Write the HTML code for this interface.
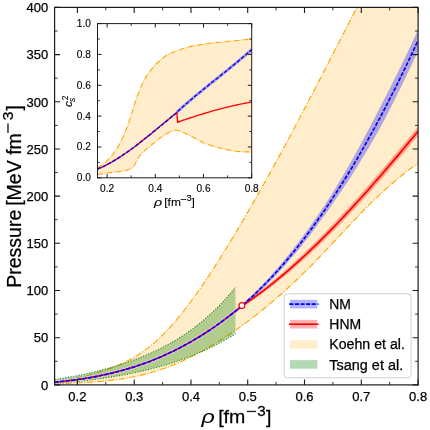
<!DOCTYPE html>
<html><head><meta charset="utf-8"><title>EoS</title>
<style>
html,body{margin:0;padding:0;background:#fff;}
svg{display:block;font-family:"Liberation Sans",sans-serif;fill:#1a1a1a;will-change:transform;}
svg text{fill:#000;stroke:#000;stroke-width:0.25px;}
svg g.ins text{stroke-width:0.12px;}
svg text.rho{stroke-width:0.05px;}
</style></head><body>
<svg width="430" height="430" viewBox="0 0 430 430">
<rect x="0" y="0" width="430" height="430" fill="#ffffff"/>
<defs><clipPath id="c"><rect x="54.6" y="7.4" width="363.5" height="377.5"/></clipPath>
<clipPath id="ci"><rect x="97.5" y="23.6" width="154.2" height="154.20000000000002"/></clipPath></defs>
<g clip-path="url(#c)">
<path d="M54.6,380.9 L57.3,380.6 L59.9,380.3 L62.6,380.0 L65.2,379.6 L67.9,379.2 L70.5,378.8 L73.2,378.4 L75.8,377.9 L78.5,377.4 L81.1,376.8 L83.8,376.3 L86.4,375.7 L89.1,375.0 L91.7,374.3 L94.4,373.6 L97.0,372.8 L99.7,372.0 L102.3,371.2 L105.0,370.3 L107.6,369.3 L110.3,368.4 L112.9,367.4 L115.6,366.3 L118.2,365.2 L120.9,364.0 L123.5,362.8 L126.2,361.5 L128.8,360.2 L131.5,358.7 L134.1,357.2 L136.8,355.7 L139.4,354.0 L142.1,352.2 L144.7,350.4 L147.4,348.4 L150.0,346.4 L152.7,344.2 L155.3,341.9 L158.0,339.5 L160.6,337.0 L163.3,334.3 L165.9,331.6 L168.6,328.8 L171.2,325.9 L173.9,322.9 L176.5,319.8 L179.2,316.6 L181.8,313.3 L184.5,310.0 L187.1,306.5 L189.8,303.0 L192.4,299.4 L195.1,295.8 L197.7,292.0 L200.4,288.2 L203.0,284.4 L205.7,280.5 L208.3,276.5 L211.0,272.5 L213.6,268.4 L216.3,264.2 L218.9,260.0 L221.6,255.8 L224.2,251.5 L226.9,247.2 L229.5,242.9 L232.2,238.5 L234.8,234.1 L237.5,229.6 L240.1,225.2 L242.8,220.7 L245.4,216.1 L248.1,211.6 L250.7,207.0 L253.4,202.4 L256.0,197.8 L258.7,193.1 L261.3,188.4 L264.0,183.7 L266.6,179.0 L269.3,174.2 L271.9,169.4 L274.6,164.6 L277.2,159.8 L279.9,154.9 L282.5,150.1 L285.2,145.2 L287.8,140.2 L290.5,135.3 L293.1,130.3 L295.8,125.3 L298.4,120.3 L301.1,115.3 L303.7,110.3 L306.4,105.2 L309.0,100.1 L311.7,95.0 L314.3,89.9 L317.0,84.8 L319.6,79.7 L322.3,74.6 L324.9,69.4 L327.6,64.3 L330.2,59.2 L332.9,54.0 L335.5,48.9 L338.2,43.7 L340.8,38.6 L343.5,33.5 L346.1,28.3 L348.8,23.2 L351.4,18.1 L354.1,13.0 L356.7,7.9 L359.4,2.8 L362.0,-2.2 L364.7,-7.3 L367.3,-12.3 L370.0,-17.3 L430.0,-17.0 L430.0,162.7 L418.2,163.2 L415.1,165.3 L412.1,167.5 L409.0,169.7 L406.0,172.1 L402.9,174.5 L399.9,176.9 L396.8,179.4 L393.8,182.0 L390.7,184.7 L387.6,187.4 L384.6,190.1 L381.5,192.9 L378.5,195.8 L375.4,198.7 L372.4,201.7 L369.3,204.7 L366.3,207.8 L363.2,210.9 L360.1,214.0 L357.1,217.2 L354.0,220.4 L351.0,223.6 L347.9,226.9 L344.9,230.1 L341.8,233.4 L338.8,236.7 L335.7,240.0 L332.6,243.2 L329.6,246.5 L326.5,249.7 L323.5,252.9 L320.4,256.1 L317.4,259.3 L314.3,262.5 L311.3,265.6 L308.2,268.6 L305.1,271.6 L302.1,274.6 L299.0,277.6 L296.0,280.5 L292.9,283.4 L289.9,286.2 L286.8,289.0 L283.8,291.8 L280.7,294.5 L277.6,297.2 L274.6,299.8 L271.5,302.4 L268.5,305.0 L265.4,307.5 L262.4,310.0 L259.3,312.5 L256.3,314.9 L253.2,317.3 L250.1,319.6 L247.1,321.9 L244.0,324.2 L241.0,326.4 L237.9,328.6 L234.9,330.7 L231.8,332.8 L228.8,334.9 L225.7,336.9 L222.7,338.9 L219.6,340.8 L216.5,342.7 L213.5,344.6 L210.4,346.4 L207.4,348.2 L204.3,349.9 L201.3,351.6 L198.2,353.2 L195.2,354.8 L192.1,356.3 L189.0,357.8 L186.0,359.3 L182.9,360.7 L179.9,362.1 L176.8,363.4 L173.8,364.7 L170.7,365.9 L167.7,367.0 L164.6,368.2 L161.5,369.2 L158.5,370.3 L155.4,371.2 L152.4,372.2 L149.3,373.0 L146.3,373.9 L143.2,374.6 L140.2,375.4 L137.1,376.1 L134.0,376.7 L131.0,377.3 L127.9,377.8 L124.9,378.4 L121.8,378.9 L118.8,379.3 L115.7,379.7 L112.7,380.1 L109.6,380.5 L106.5,380.8 L103.5,381.1 L100.4,381.4 L97.4,381.6 L94.3,381.9 L91.3,382.1 L88.2,382.3 L85.2,382.5 L82.1,382.7 L79.0,382.8 L76.0,383.0 L72.9,383.1 L69.9,383.3 L66.8,383.4 L63.8,383.6 L60.7,383.7 L57.7,383.8 L54.6,384.0Z" fill="#ffa500" fill-opacity="0.2"/>
<path d="M54.6,380.9 L57.3,380.6 L59.9,380.3 L62.6,380.0 L65.2,379.6 L67.9,379.2 L70.5,378.8 L73.2,378.4 L75.8,377.9 L78.5,377.4 L81.1,376.8 L83.8,376.3 L86.4,375.7 L89.1,375.0 L91.7,374.3 L94.4,373.6 L97.0,372.8 L99.7,372.0 L102.3,371.2 L105.0,370.3 L107.6,369.3 L110.3,368.4 L112.9,367.4 L115.6,366.3 L118.2,365.2 L120.9,364.0 L123.5,362.8 L126.2,361.5 L128.8,360.2 L131.5,358.7 L134.1,357.2 L136.8,355.7 L139.4,354.0 L142.1,352.2 L144.7,350.4 L147.4,348.4 L150.0,346.4 L152.7,344.2 L155.3,341.9 L158.0,339.5 L160.6,337.0 L163.3,334.3 L165.9,331.6 L168.6,328.8 L171.2,325.9 L173.9,322.9 L176.5,319.8 L179.2,316.6 L181.8,313.3 L184.5,310.0 L187.1,306.5 L189.8,303.0 L192.4,299.4 L195.1,295.8 L197.7,292.0 L200.4,288.2 L203.0,284.4 L205.7,280.5 L208.3,276.5 L211.0,272.5 L213.6,268.4 L216.3,264.2 L218.9,260.0 L221.6,255.8 L224.2,251.5 L226.9,247.2 L229.5,242.9 L232.2,238.5 L234.8,234.1 L237.5,229.6 L240.1,225.2 L242.8,220.7 L245.4,216.1 L248.1,211.6 L250.7,207.0 L253.4,202.4 L256.0,197.8 L258.7,193.1 L261.3,188.4 L264.0,183.7 L266.6,179.0 L269.3,174.2 L271.9,169.4 L274.6,164.6 L277.2,159.8 L279.9,154.9 L282.5,150.1 L285.2,145.2 L287.8,140.2 L290.5,135.3 L293.1,130.3 L295.8,125.3 L298.4,120.3 L301.1,115.3 L303.7,110.3 L306.4,105.2 L309.0,100.1 L311.7,95.0 L314.3,89.9 L317.0,84.8 L319.6,79.7 L322.3,74.6 L324.9,69.4 L327.6,64.3 L330.2,59.2 L332.9,54.0 L335.5,48.9 L338.2,43.7 L340.8,38.6 L343.5,33.5 L346.1,28.3 L348.8,23.2 L351.4,18.1 L354.1,13.0 L356.7,7.9 L359.4,2.8 L362.0,-2.2 L364.7,-7.3 L367.3,-12.3 L370.0,-17.3" fill="none" stroke="#ffa500" stroke-width="1.15" stroke-dasharray="6.4,1.6,1.1,1.6"/>
<path d="M54.6,384.0 L57.7,383.8 L60.7,383.7 L63.8,383.6 L66.8,383.4 L69.9,383.3 L72.9,383.1 L76.0,383.0 L79.0,382.8 L82.1,382.7 L85.2,382.5 L88.2,382.3 L91.3,382.1 L94.3,381.9 L97.4,381.6 L100.4,381.4 L103.5,381.1 L106.5,380.8 L109.6,380.5 L112.7,380.1 L115.7,379.7 L118.8,379.3 L121.8,378.9 L124.9,378.4 L127.9,377.8 L131.0,377.3 L134.0,376.7 L137.1,376.1 L140.2,375.4 L143.2,374.6 L146.3,373.9 L149.3,373.0 L152.4,372.2 L155.4,371.2 L158.5,370.3 L161.5,369.2 L164.6,368.2 L167.7,367.0 L170.7,365.9 L173.8,364.7 L176.8,363.4 L179.9,362.1 L182.9,360.7 L186.0,359.3 L189.0,357.8 L192.1,356.3 L195.2,354.8 L198.2,353.2 L201.3,351.6 L204.3,349.9 L207.4,348.2 L210.4,346.4 L213.5,344.6 L216.5,342.7 L219.6,340.8 L222.7,338.9 L225.7,336.9 L228.8,334.9 L231.8,332.8 L234.9,330.7 L237.9,328.6 L241.0,326.4 L244.0,324.2 L247.1,321.9 L250.1,319.6 L253.2,317.3 L256.3,314.9 L259.3,312.5 L262.4,310.0 L265.4,307.5 L268.5,305.0 L271.5,302.4 L274.6,299.8 L277.6,297.2 L280.7,294.5 L283.8,291.8 L286.8,289.0 L289.9,286.2 L292.9,283.4 L296.0,280.5 L299.0,277.6 L302.1,274.6 L305.1,271.6 L308.2,268.6 L311.3,265.6 L314.3,262.5 L317.4,259.3 L320.4,256.1 L323.5,252.9 L326.5,249.7 L329.6,246.5 L332.6,243.2 L335.7,240.0 L338.8,236.7 L341.8,233.4 L344.9,230.1 L347.9,226.9 L351.0,223.6 L354.0,220.4 L357.1,217.2 L360.1,214.0 L363.2,210.9 L366.3,207.8 L369.3,204.7 L372.4,201.7 L375.4,198.7 L378.5,195.8 L381.5,192.9 L384.6,190.1 L387.6,187.4 L390.7,184.7 L393.8,182.0 L396.8,179.4 L399.9,176.9 L402.9,174.5 L406.0,172.1 L409.0,169.7 L412.1,167.5 L415.1,165.3 L418.2,163.2" fill="none" stroke="#ffa500" stroke-width="1.15" stroke-dasharray="6.4,1.6,1.1,1.6"/>
<path d="M54.6,379.4 L57.7,379.0 L60.7,378.6 L63.8,378.1 L66.9,377.6 L69.9,377.0 L73.0,376.5 L76.1,375.9 L79.1,375.3 L82.2,374.7 L85.3,374.0 L88.3,373.3 L91.4,372.6 L94.5,371.9 L97.5,371.1 L100.6,370.3 L103.7,369.5 L106.7,368.7 L109.8,367.8 L112.9,366.9 L115.9,366.0 L119.0,365.0 L122.1,364.0 L125.1,363.0 L128.2,362.0 L131.3,360.9 L134.3,359.8 L137.4,358.6 L140.5,357.4 L143.5,356.2 L146.6,354.9 L149.6,353.6 L152.7,352.2 L155.8,350.8 L158.8,349.3 L161.9,347.7 L165.0,346.2 L168.0,344.5 L171.1,342.8 L174.2,341.0 L177.2,339.2 L180.3,337.3 L183.4,335.3 L186.4,333.3 L189.5,331.1 L192.6,328.9 L195.6,326.6 L198.7,324.2 L201.8,321.7 L204.8,319.2 L207.9,316.5 L211.0,313.7 L214.0,310.8 L217.1,307.8 L220.2,304.7 L223.2,301.5 L226.3,298.1 L229.4,294.6 L232.4,291.0 L235.5,287.3 L235.5,333.8 L232.4,335.7 L229.4,337.5 L226.3,339.3 L223.2,341.0 L220.2,342.7 L217.1,344.3 L214.0,345.9 L211.0,347.4 L207.9,348.8 L204.8,350.3 L201.8,351.6 L198.7,353.0 L195.6,354.2 L192.6,355.5 L189.5,356.7 L186.4,357.9 L183.4,359.0 L180.3,360.1 L177.2,361.2 L174.2,362.2 L171.1,363.2 L168.0,364.1 L165.0,365.1 L161.9,365.9 L158.8,366.8 L155.8,367.6 L152.7,368.5 L149.6,369.2 L146.6,370.0 L143.5,370.7 L140.5,371.4 L137.4,372.1 L134.3,372.8 L131.3,373.4 L128.2,374.0 L125.1,374.6 L122.1,375.2 L119.0,375.7 L115.9,376.2 L112.9,376.8 L109.8,377.2 L106.7,377.7 L103.7,378.2 L100.6,378.6 L97.5,379.0 L94.5,379.4 L91.4,379.8 L88.3,380.2 L85.3,380.6 L82.2,380.9 L79.1,381.3 L76.1,381.6 L73.0,381.9 L69.9,382.2 L66.9,382.5 L63.8,382.7 L60.7,383.0 L57.7,383.2 L54.6,383.5Z" fill="#008000" fill-opacity="0.3"/>
<path d="M54.6,379.4 L57.7,379.0 L60.7,378.6 L63.8,378.1 L66.9,377.6 L69.9,377.0 L73.0,376.5 L76.1,375.9 L79.1,375.3 L82.2,374.7 L85.3,374.0 L88.3,373.3 L91.4,372.6 L94.5,371.9 L97.5,371.1 L100.6,370.3 L103.7,369.5 L106.7,368.7 L109.8,367.8 L112.9,366.9 L115.9,366.0 L119.0,365.0 L122.1,364.0 L125.1,363.0 L128.2,362.0 L131.3,360.9 L134.3,359.8 L137.4,358.6 L140.5,357.4 L143.5,356.2 L146.6,354.9 L149.6,353.6 L152.7,352.2 L155.8,350.8 L158.8,349.3 L161.9,347.7 L165.0,346.2 L168.0,344.5 L171.1,342.8 L174.2,341.0 L177.2,339.2 L180.3,337.3 L183.4,335.3 L186.4,333.3 L189.5,331.1 L192.6,328.9 L195.6,326.6 L198.7,324.2 L201.8,321.7 L204.8,319.2 L207.9,316.5 L211.0,313.7 L214.0,310.8 L217.1,307.8 L220.2,304.7 L223.2,301.5 L226.3,298.1 L229.4,294.6 L232.4,291.0 L235.5,287.3" fill="none" stroke="#2a8a2a" stroke-width="1.2" stroke-dasharray="1.1,1.6"/>
<path d="M54.6,383.5 L57.7,383.2 L60.7,383.0 L63.8,382.7 L66.9,382.5 L69.9,382.2 L73.0,381.9 L76.1,381.6 L79.1,381.3 L82.2,380.9 L85.3,380.6 L88.3,380.2 L91.4,379.8 L94.5,379.4 L97.5,379.0 L100.6,378.6 L103.7,378.2 L106.7,377.7 L109.8,377.2 L112.9,376.8 L115.9,376.2 L119.0,375.7 L122.1,375.2 L125.1,374.6 L128.2,374.0 L131.3,373.4 L134.3,372.8 L137.4,372.1 L140.5,371.4 L143.5,370.7 L146.6,370.0 L149.6,369.2 L152.7,368.5 L155.8,367.6 L158.8,366.8 L161.9,365.9 L165.0,365.1 L168.0,364.1 L171.1,363.2 L174.2,362.2 L177.2,361.2 L180.3,360.1 L183.4,359.0 L186.4,357.9 L189.5,356.7 L192.6,355.5 L195.6,354.2 L198.7,353.0 L201.8,351.6 L204.8,350.3 L207.9,348.8 L211.0,347.4 L214.0,345.9 L217.1,344.3 L220.2,342.7 L223.2,341.0 L226.3,339.3 L229.4,337.5 L232.4,335.7 L235.5,333.8" fill="none" stroke="#2a8a2a" stroke-width="1.2" stroke-dasharray="1.1,1.6"/>
<path d="M54.6,382.2 L57.3,381.9 L60.0,381.7 L62.8,381.4 L65.5,381.1 L68.2,380.7 L70.9,380.4 L73.6,380.1 L76.3,379.7 L79.1,379.3 L81.8,378.9 L84.5,378.5 L87.2,378.0 L89.9,377.6 L92.6,377.1 L95.4,376.6 L98.1,376.1 L100.8,375.5 L103.5,374.9 L106.2,374.4 L108.9,373.7 L111.7,373.1 L114.4,372.4 L117.1,371.7 L119.8,371.0 L122.5,370.3 L125.3,369.5 L128.0,368.7 L130.7,367.9 L133.4,367.1 L136.1,366.2 L138.8,365.3 L141.6,364.3 L144.3,363.4 L147.0,362.4 L149.7,361.4 L152.4,360.3 L155.1,359.2 L157.9,358.1 L160.6,356.9 L163.3,355.7 L166.0,354.5 L168.7,353.3 L171.4,352.0 L174.2,350.7 L176.9,349.3 L179.6,347.9 L182.3,346.5 L185.0,345.0 L187.8,343.5 L190.5,342.0 L193.2,340.4 L195.9,338.8 L198.6,337.2 L201.3,335.5 L204.1,333.8 L206.8,332.0 L209.5,330.3 L212.2,328.4 L214.9,326.6 L217.6,324.6 L220.4,322.7 L223.1,320.7 L225.8,318.7 L228.5,316.6 L231.2,314.5 L233.9,312.4 L236.7,310.2 L239.4,308.0 L242.1,305.7" fill="none" stroke="#d2cfe6" stroke-opacity="0.9" stroke-width="3.7"/>
<path d="M242.1,304.2 L244.6,301.9 L247.2,299.6 L249.7,297.2 L252.3,294.7 L254.8,292.2 L257.4,289.7 L259.9,287.1 L262.5,284.5 L265.0,281.8 L267.6,279.1 L270.1,276.3 L272.7,273.5 L275.2,270.6 L277.8,267.7 L280.3,264.7 L282.9,261.7 L285.4,258.6 L288.0,255.5 L290.5,252.3 L293.1,249.1 L295.6,245.8 L298.2,242.5 L300.7,239.1 L303.2,235.7 L305.8,232.2 L308.3,228.7 L310.9,225.2 L313.4,221.6 L316.0,217.9 L318.5,214.3 L321.1,210.5 L323.6,206.7 L326.2,202.8 L328.7,198.9 L331.3,194.9 L333.8,190.8 L336.4,186.7 L338.9,182.5 L341.5,178.2 L344.0,173.8 L346.6,169.4 L349.1,164.9 L351.7,160.4 L354.2,155.9 L356.8,151.3 L359.3,146.7 L361.8,142.0 L364.4,137.3 L366.9,132.5 L369.5,127.7 L372.0,122.8 L374.6,117.9 L377.1,112.9 L379.7,108.0 L382.2,103.1 L384.8,98.1 L387.3,93.2 L389.9,88.2 L392.4,83.1 L395.0,78.1 L397.5,72.9 L400.1,67.7 L402.6,62.5 L405.2,57.2 L407.7,51.9 L410.3,46.5 L412.8,41.1 L415.4,35.6 L417.9,30.1 L417.9,51.3 L415.4,56.8 L412.8,62.3 L410.3,67.7 L407.7,73.1 L405.2,78.4 L402.6,83.7 L400.1,88.9 L397.5,94.0 L395.0,99.2 L392.4,104.2 L389.9,109.2 L387.3,114.2 L384.8,119.1 L382.2,123.9 L379.7,128.6 L377.1,133.2 L374.6,137.7 L372.0,142.1 L369.5,146.4 L366.9,150.7 L364.4,155.0 L361.8,159.2 L359.3,163.3 L356.8,167.5 L354.2,171.5 L351.7,175.5 L349.1,179.4 L346.6,183.3 L344.0,187.1 L341.5,190.9 L338.9,194.6 L336.4,198.3 L333.8,202.0 L331.3,205.7 L328.7,209.4 L326.2,213.0 L323.6,216.6 L321.1,220.1 L318.5,223.6 L316.0,227.1 L313.4,230.5 L310.9,233.9 L308.3,237.2 L305.8,240.5 L303.2,243.7 L300.7,246.9 L298.2,250.0 L295.6,253.1 L293.1,256.1 L290.5,259.1 L288.0,262.0 L285.4,264.9 L282.9,267.7 L280.3,270.5 L277.8,273.3 L275.2,276.0 L272.7,278.7 L270.1,281.3 L267.6,283.9 L265.0,286.4 L262.5,288.9 L259.9,291.3 L257.4,293.7 L254.8,296.1 L252.3,298.4 L249.7,300.7 L247.2,302.9 L244.6,305.1 L242.1,307.2Z" fill="#0000ff" fill-opacity="0.3"/>
<path d="M242.1,304.2 L244.7,302.4 L247.2,300.7 L249.8,298.8 L252.3,297.0 L254.9,295.1 L257.4,293.2 L260.0,291.3 L262.5,289.3 L265.1,287.3 L267.6,285.2 L270.2,283.2 L272.7,281.1 L275.3,279.0 L277.8,276.8 L280.4,274.6 L282.9,272.4 L285.5,270.2 L288.0,267.9 L290.6,265.6 L293.1,263.3 L295.7,260.9 L298.2,258.6 L300.8,256.2 L303.4,253.7 L305.9,251.3 L308.5,248.8 L311.0,246.4 L313.6,243.8 L316.1,241.3 L318.7,238.8 L321.2,236.2 L323.8,233.6 L326.3,231.0 L328.9,228.3 L331.4,225.7 L334.0,223.0 L336.5,220.3 L339.1,217.6 L341.6,214.9 L344.2,212.2 L346.7,209.4 L349.3,206.7 L351.8,203.9 L354.4,201.1 L356.9,198.2 L359.5,195.4 L362.1,192.5 L364.6,189.7 L367.2,186.8 L369.7,183.9 L372.3,181.0 L374.8,178.1 L377.4,175.1 L379.9,172.2 L382.5,169.2 L385.0,166.2 L387.6,163.2 L390.1,160.2 L392.7,157.2 L395.2,154.2 L397.8,151.2 L400.3,148.1 L402.9,145.1 L405.4,142.0 L408.0,138.9 L410.5,135.9 L413.1,132.8 L415.6,129.7 L418.2,126.6 L418.2,135.6 L415.6,138.7 L413.1,141.8 L410.5,144.8 L408.0,147.9 L405.4,151.0 L402.9,154.0 L400.3,157.0 L397.8,160.0 L395.2,163.1 L392.7,166.0 L390.1,169.0 L387.6,172.0 L385.0,174.9 L382.5,177.9 L379.9,180.8 L377.4,183.7 L374.8,186.6 L372.3,189.5 L369.7,192.4 L367.2,195.2 L364.6,198.0 L362.1,200.9 L359.5,203.6 L356.9,206.4 L354.4,209.2 L351.8,211.9 L349.3,214.7 L346.7,217.4 L344.2,220.1 L341.6,222.8 L339.1,225.4 L336.5,228.0 L334.0,230.6 L331.4,233.2 L328.9,235.8 L326.3,238.3 L323.8,240.8 L321.2,243.3 L318.7,245.8 L316.1,248.2 L313.6,250.6 L311.0,253.0 L308.5,255.4 L305.9,257.7 L303.4,260.0 L300.8,262.3 L298.2,264.6 L295.7,266.8 L293.1,269.0 L290.6,271.2 L288.0,273.3 L285.5,275.5 L282.9,277.6 L280.4,279.6 L277.8,281.7 L275.3,283.7 L272.7,285.7 L270.2,287.7 L267.6,289.6 L265.1,291.5 L262.5,293.4 L260.0,295.2 L257.4,297.0 L254.9,298.8 L252.3,300.5 L249.8,302.3 L247.2,303.9 L244.7,305.6 L242.1,307.2Z" fill="#ff0000" fill-opacity="0.3"/>
<path d="M54.6,382.2 L57.3,381.9 L60.0,381.7 L62.8,381.4 L65.5,381.1 L68.2,380.7 L70.9,380.4 L73.6,380.1 L76.3,379.7 L79.1,379.3 L81.8,378.9 L84.5,378.5 L87.2,378.0 L89.9,377.6 L92.6,377.1 L95.4,376.6 L98.1,376.1 L100.8,375.5 L103.5,374.9 L106.2,374.4 L108.9,373.7 L111.7,373.1 L114.4,372.4 L117.1,371.7 L119.8,371.0 L122.5,370.3 L125.3,369.5 L128.0,368.7 L130.7,367.9 L133.4,367.1 L136.1,366.2 L138.8,365.3 L141.6,364.3 L144.3,363.4 L147.0,362.4 L149.7,361.4 L152.4,360.3 L155.1,359.2 L157.9,358.1 L160.6,356.9 L163.3,355.7 L166.0,354.5 L168.7,353.3 L171.4,352.0 L174.2,350.7 L176.9,349.3 L179.6,347.9 L182.3,346.5 L185.0,345.0 L187.8,343.5 L190.5,342.0 L193.2,340.4 L195.9,338.8 L198.6,337.2 L201.3,335.5 L204.1,333.8 L206.8,332.0 L209.5,330.3 L212.2,328.4 L214.9,326.6 L217.6,324.6 L220.4,322.7 L223.1,320.7 L225.8,318.7 L228.5,316.6 L231.2,314.5 L233.9,312.4 L236.7,310.2 L239.4,308.0 L242.1,305.7 L244.7,304.0 L247.2,302.3 L249.8,300.6 L252.3,298.8 L254.9,297.0 L257.4,295.1 L260.0,293.2 L262.5,291.3 L265.1,289.4 L267.6,287.4 L270.2,285.4 L272.7,283.4 L275.3,281.3 L277.8,279.2 L280.4,277.1 L282.9,275.0 L285.5,272.8 L288.0,270.6 L290.6,268.4 L293.1,266.1 L295.7,263.9 L298.2,261.6 L300.8,259.2 L303.4,256.9 L305.9,254.5 L308.5,252.1 L311.0,249.7 L313.6,247.2 L316.1,244.8 L318.7,242.3 L321.2,239.7 L323.8,237.2 L326.3,234.6 L328.9,232.1 L331.4,229.4 L334.0,226.8 L336.5,224.2 L339.1,221.5 L341.6,218.8 L344.2,216.1 L346.7,213.4 L349.3,210.7 L351.8,207.9 L354.4,205.1 L356.9,202.3 L359.5,199.5 L362.1,196.7 L364.6,193.9 L367.2,191.0 L369.7,188.1 L372.3,185.2 L374.8,182.3 L377.4,179.4 L379.9,176.5 L382.5,173.5 L385.0,170.6 L387.6,167.6 L390.1,164.6 L392.7,161.6 L395.2,158.6 L397.8,155.6 L400.3,152.6 L402.9,149.5 L405.4,146.5 L408.0,143.4 L410.5,140.3 L413.1,137.3 L415.6,134.2 L418.2,131.1" fill="none" stroke="#ff0000" stroke-width="1.65"/>
<path d="M54.6,382.2 L57.3,381.9 L60.0,381.7 L62.8,381.4 L65.5,381.1 L68.2,380.7 L70.9,380.4 L73.6,380.1 L76.3,379.7 L79.1,379.3 L81.8,378.9 L84.5,378.5 L87.2,378.0 L89.9,377.6 L92.6,377.1 L95.4,376.6 L98.1,376.1 L100.8,375.5 L103.5,374.9 L106.2,374.4 L108.9,373.7 L111.7,373.1 L114.4,372.4 L117.1,371.7 L119.8,371.0 L122.5,370.3 L125.3,369.5 L128.0,368.7 L130.7,367.9 L133.4,367.1 L136.1,366.2 L138.8,365.3 L141.6,364.3 L144.3,363.4 L147.0,362.4 L149.7,361.4 L152.4,360.3 L155.1,359.2 L157.9,358.1 L160.6,356.9 L163.3,355.7 L166.0,354.5 L168.7,353.3 L171.4,352.0 L174.2,350.7 L176.9,349.3 L179.6,347.9 L182.3,346.5 L185.0,345.0 L187.8,343.5 L190.5,342.0 L193.2,340.4 L195.9,338.8 L198.6,337.2 L201.3,335.5 L204.1,333.8 L206.8,332.0 L209.5,330.3 L212.2,328.4 L214.9,326.6 L217.6,324.6 L220.4,322.7 L223.1,320.7 L225.8,318.7 L228.5,316.6 L231.2,314.5 L233.9,312.4 L236.7,310.2 L239.4,308.0 L242.1,305.7 L244.6,303.5 L247.2,301.2 L249.7,298.9 L252.3,296.6 L254.8,294.2 L257.4,291.7 L259.9,289.2 L262.5,286.7 L265.0,284.1 L267.6,281.5 L270.1,278.8 L272.7,276.1 L275.2,273.3 L277.8,270.5 L280.3,267.6 L282.9,264.7 L285.4,261.7 L288.0,258.7 L290.5,255.7 L293.1,252.6 L295.6,249.4 L298.2,246.2 L300.7,243.0 L303.2,239.7 L305.8,236.4 L308.3,233.0 L310.9,229.5 L313.4,226.1 L316.0,222.5 L318.5,218.9 L321.1,215.3 L323.6,211.6 L326.2,207.9 L328.7,204.1 L331.3,200.3 L333.8,196.4 L336.4,192.5 L338.9,188.5 L341.5,184.5 L344.0,180.5 L346.6,176.3 L349.1,172.2 L351.7,168.0 L354.2,163.7 L356.8,159.4 L359.3,155.0 L361.8,150.6 L364.4,146.1 L366.9,141.6 L369.5,137.0 L372.0,132.4 L374.6,127.8 L377.1,123.0 L379.7,118.3 L382.2,113.5 L384.8,108.6 L387.3,103.7 L389.9,98.7 L392.4,93.7 L395.0,88.6 L397.5,83.5 L400.1,78.3 L402.6,73.1 L405.2,67.8 L407.7,62.5 L410.3,57.1 L412.8,51.7 L415.4,46.2 L417.9,40.7" fill="none" stroke="#0000ff" stroke-width="1.65" stroke-dasharray="4.1,1.5"/>
<circle cx="241.9" cy="305.6" r="2.9" fill="#fff" stroke="#ff0000" stroke-width="1.2"/>
</g>
<path d="M77.4,384.9 v-5.5 M77.4,7.4 v5.5" stroke="#1c1c1c" stroke-width="1.1"/>
<path d="M105.8,384.9 v-3.0 M105.8,7.4 v3.0" stroke="#1c1c1c" stroke-width="0.9"/>
<path d="M134.2,384.9 v-5.5 M134.2,7.4 v5.5" stroke="#1c1c1c" stroke-width="1.1"/>
<path d="M162.6,384.9 v-3.0 M162.6,7.4 v3.0" stroke="#1c1c1c" stroke-width="0.9"/>
<path d="M191.0,384.9 v-5.5 M191.0,7.4 v5.5" stroke="#1c1c1c" stroke-width="1.1"/>
<path d="M219.3,384.9 v-3.0 M219.3,7.4 v3.0" stroke="#1c1c1c" stroke-width="0.9"/>
<path d="M247.7,384.9 v-5.5 M247.7,7.4 v5.5" stroke="#1c1c1c" stroke-width="1.1"/>
<path d="M276.1,384.9 v-3.0 M276.1,7.4 v3.0" stroke="#1c1c1c" stroke-width="0.9"/>
<path d="M304.5,384.9 v-5.5 M304.5,7.4 v5.5" stroke="#1c1c1c" stroke-width="1.1"/>
<path d="M332.9,384.9 v-3.0 M332.9,7.4 v3.0" stroke="#1c1c1c" stroke-width="0.9"/>
<path d="M361.3,384.9 v-5.5 M361.3,7.4 v5.5" stroke="#1c1c1c" stroke-width="1.1"/>
<path d="M389.7,384.9 v-3.0 M389.7,7.4 v3.0" stroke="#1c1c1c" stroke-width="0.9"/>
<path d="M418.1,384.9 v-5.5 M418.1,7.4 v5.5" stroke="#1c1c1c" stroke-width="1.1"/>
<path d="M54.6,384.9 h5.5 M418.1,384.9 h-5.5" stroke="#1c1c1c" stroke-width="1.1"/>
<path d="M54.6,361.3 h3.0 M418.1,361.3 h-3.0" stroke="#1c1c1c" stroke-width="0.9"/>
<path d="M54.6,337.7 h5.5 M418.1,337.7 h-5.5" stroke="#1c1c1c" stroke-width="1.1"/>
<path d="M54.6,314.1 h3.0 M418.1,314.1 h-3.0" stroke="#1c1c1c" stroke-width="0.9"/>
<path d="M54.6,290.5 h5.5 M418.1,290.5 h-5.5" stroke="#1c1c1c" stroke-width="1.1"/>
<path d="M54.6,266.9 h3.0 M418.1,266.9 h-3.0" stroke="#1c1c1c" stroke-width="0.9"/>
<path d="M54.6,243.3 h5.5 M418.1,243.3 h-5.5" stroke="#1c1c1c" stroke-width="1.1"/>
<path d="M54.6,219.7 h3.0 M418.1,219.7 h-3.0" stroke="#1c1c1c" stroke-width="0.9"/>
<path d="M54.6,196.1 h5.5 M418.1,196.1 h-5.5" stroke="#1c1c1c" stroke-width="1.1"/>
<path d="M54.6,172.6 h3.0 M418.1,172.6 h-3.0" stroke="#1c1c1c" stroke-width="0.9"/>
<path d="M54.6,149.0 h5.5 M418.1,149.0 h-5.5" stroke="#1c1c1c" stroke-width="1.1"/>
<path d="M54.6,125.4 h3.0 M418.1,125.4 h-3.0" stroke="#1c1c1c" stroke-width="0.9"/>
<path d="M54.6,101.8 h5.5 M418.1,101.8 h-5.5" stroke="#1c1c1c" stroke-width="1.1"/>
<path d="M54.6,78.2 h3.0 M418.1,78.2 h-3.0" stroke="#1c1c1c" stroke-width="0.9"/>
<path d="M54.6,54.6 h5.5 M418.1,54.6 h-5.5" stroke="#1c1c1c" stroke-width="1.1"/>
<path d="M54.6,31.0 h3.0 M418.1,31.0 h-3.0" stroke="#1c1c1c" stroke-width="0.9"/>
<path d="M54.6,7.4 h5.5 M418.1,7.4 h-5.5" stroke="#1c1c1c" stroke-width="1.1"/>
<rect x="54.6" y="7.4" width="363.5" height="377.5" fill="none" stroke="#1c1c1c" stroke-width="1.2"/>
<text x="77.4" y="401.2" text-anchor="middle" font-size="13">0.2</text>
<text x="134.2" y="401.2" text-anchor="middle" font-size="13">0.3</text>
<text x="191.0" y="401.2" text-anchor="middle" font-size="13">0.4</text>
<text x="247.7" y="401.2" text-anchor="middle" font-size="13">0.5</text>
<text x="304.5" y="401.2" text-anchor="middle" font-size="13">0.6</text>
<text x="361.3" y="401.2" text-anchor="middle" font-size="13">0.7</text>
<text x="418.1" y="401.2" text-anchor="middle" font-size="13">0.8</text>
<text x="48.3" y="389.6" text-anchor="end" font-size="13">0</text>
<text x="48.3" y="342.4" text-anchor="end" font-size="13">50</text>
<text x="48.3" y="295.2" text-anchor="end" font-size="13">100</text>
<text x="48.3" y="248.0" text-anchor="end" font-size="13">150</text>
<text x="48.3" y="200.8" text-anchor="end" font-size="13">200</text>
<text x="48.3" y="153.7" text-anchor="end" font-size="13">250</text>
<text x="48.3" y="106.5" text-anchor="end" font-size="13">300</text>
<text x="48.3" y="59.3" text-anchor="end" font-size="13">350</text>
<text x="48.3" y="12.1" text-anchor="end" font-size="13">400</text>
<text transform="translate(201.4,422.8) scale(1.25,1)" font-size="18.6" font-style="italic" class="rho">ρ</text>
<text transform="translate(218.2,422.8) scale(1.05,1)" font-size="18.6" >[fm</text>
<rect x="246.9" y="410.8" width="9.0" height="1.3" fill="#1a1a1a"/>
<text transform="translate(257.3,415.6) scale(1.08,1)" font-size="14" >3</text>
<text transform="translate(265.9,422.8) scale(1.05,1)" font-size="18.6" >]</text>
<g transform="translate(20.9,287.8) rotate(-90)"><text transform="translate(0,0) scale(1.0,1)" font-size="19.5" >Pressure</text><text transform="translate(82.0,0) scale(1.0,1)" font-size="19.5" >[MeV fm</text><rect x="154.9" y="-13.6" width="9.4" height="1.35" fill="#1a1a1a"/><text transform="translate(167.6,-7.5) scale(1.08,1)" font-size="14.5" >3</text><text transform="translate(177.4,0) scale(1.0,1)" font-size="19.5" >]</text></g>
<rect x="284.2" y="293.8" width="126.9" height="84.0" rx="3.2" fill="#fff" fill-opacity="0.8" stroke="#d0d0d0" stroke-width="1"/>
<rect x="290.0" y="299.8" width="27.30000000000001" height="8.6" fill="#0000ff" fill-opacity="0.3"/>
<path d="M289.3,304.1 H318.40000000000003" stroke="#0000ff" stroke-width="1.6" stroke-dasharray="4.1,1.5"/>
<rect x="290.0" y="319.9" width="27.30000000000001" height="8.6" fill="#ff0000" fill-opacity="0.3"/>
<path d="M289.0,324.2 H318.5" stroke="#ff0000" stroke-width="1.6"/>
<rect x="290.0" y="340.09999999999997" width="27.30000000000001" height="8.6" fill="#ffa500" fill-opacity="0.2"/>
<rect x="290.0" y="360.09999999999997" width="27.30000000000001" height="8.6" fill="#008000" fill-opacity="0.3"/>
<text x="329.3" y="309.1" font-size="14" textLength="21.6" lengthAdjust="spacingAndGlyphs">NM</text>
<text x="329.3" y="329.2" font-size="14" textLength="31.8" lengthAdjust="spacingAndGlyphs">HNM</text>
<text x="329.3" y="349.4" font-size="14" textLength="75.6" lengthAdjust="spacingAndGlyphs">Koehn et al.</text>
<text x="329.3" y="369.5" font-size="14" textLength="73.9" lengthAdjust="spacingAndGlyphs">Tsang et al.</text>
<g class="ins">
<rect x="97.5" y="23.6" width="154.2" height="154.20000000000002" fill="#fff"/>
<g clip-path="url(#ci)">
<path d="M97.5,167.8 L99.1,167.0 L100.6,166.0 L102.2,164.9 L103.7,163.7 L105.3,162.3 L106.8,160.9 L108.4,159.4 L110.0,157.7 L111.5,155.9 L113.1,153.9 L114.6,151.8 L116.2,149.5 L117.7,147.1 L119.3,144.5 L120.9,141.7 L122.4,138.4 L124.0,134.9 L125.5,131.2 L127.1,127.2 L128.7,122.8 L130.2,118.0 L131.8,113.3 L133.3,108.3 L134.9,103.4 L136.4,98.7 L138.0,94.5 L139.6,90.5 L141.1,86.7 L142.7,83.2 L144.2,80.1 L145.8,77.4 L147.3,74.9 L148.9,72.7 L150.5,70.6 L152.0,68.6 L153.6,66.8 L155.1,65.1 L156.7,63.5 L158.2,62.0 L159.8,60.6 L161.4,59.3 L162.9,58.0 L164.5,56.8 L166.0,55.7 L167.6,54.7 L169.1,53.9 L170.7,53.2 L172.3,52.5 L173.8,51.9 L175.4,51.4 L176.9,50.8 L178.5,50.2 L180.1,49.7 L181.6,49.1 L183.2,48.6 L184.7,48.1 L186.3,47.6 L187.8,47.2 L189.4,46.8 L191.0,46.4 L192.5,46.1 L194.1,45.8 L195.6,45.5 L197.2,45.2 L198.7,44.9 L200.3,44.7 L201.9,44.4 L203.4,44.2 L205.0,43.9 L206.5,43.7 L208.1,43.5 L209.6,43.3 L211.2,43.1 L212.8,42.9 L214.3,42.7 L215.9,42.6 L217.4,42.4 L219.0,42.3 L220.5,42.1 L222.1,42.0 L223.7,41.8 L225.2,41.7 L226.8,41.6 L228.3,41.4 L229.9,41.3 L231.5,41.1 L233.0,41.0 L234.6,40.8 L236.1,40.6 L237.7,40.5 L239.2,40.3 L240.8,40.1 L242.4,39.9 L243.9,39.8 L245.5,39.6 L247.0,39.4 L248.6,39.2 L250.1,39.0 L251.7,38.8 L251.7,152.0 L250.1,152.0 L248.6,152.0 L247.0,151.9 L245.5,151.9 L243.9,151.8 L242.4,151.7 L240.8,151.6 L239.2,151.6 L237.7,151.5 L236.1,151.3 L234.6,151.1 L233.0,150.8 L231.5,150.5 L229.9,150.2 L228.3,149.9 L226.8,149.6 L225.2,149.3 L223.7,148.9 L222.1,148.5 L220.5,148.1 L219.0,147.7 L217.4,147.3 L215.9,146.9 L214.3,146.5 L212.8,146.1 L211.2,145.6 L209.6,145.1 L208.1,144.6 L206.5,144.1 L205.0,143.4 L203.4,142.7 L201.9,141.9 L200.3,141.1 L198.7,140.2 L197.2,139.4 L195.6,138.6 L194.1,137.8 L192.5,136.9 L191.0,136.1 L189.4,135.3 L187.8,134.5 L186.3,133.8 L184.7,133.2 L183.2,132.5 L181.6,131.8 L180.1,131.2 L178.5,130.6 L176.9,130.3 L175.4,130.2 L173.8,130.4 L172.3,130.9 L170.7,131.5 L169.1,132.4 L167.6,133.3 L166.0,134.2 L164.5,135.1 L162.9,136.0 L161.4,137.1 L159.8,138.2 L158.2,139.4 L156.7,140.7 L155.1,142.0 L153.6,143.3 L152.0,144.6 L150.5,145.9 L148.9,147.2 L147.3,148.4 L145.8,149.7 L144.2,151.1 L142.7,152.6 L141.1,154.2 L139.6,156.0 L138.0,158.5 L136.4,161.5 L134.9,164.6 L133.3,167.0 L131.8,168.2 L130.2,169.0 L128.7,169.6 L127.1,170.1 L125.5,170.5 L124.0,170.8 L122.4,171.1 L120.9,171.4 L119.3,171.6 L117.7,171.8 L116.2,172.0 L114.6,172.1 L113.1,172.3 L111.5,172.5 L110.0,172.6 L108.4,172.8 L106.8,173.0 L105.3,173.3 L103.7,173.5 L102.2,173.7 L100.6,173.9 L99.1,174.2 L97.5,174.4Z" fill="#ffa500" fill-opacity="0.2"/>
<path d="M97.5,167.8 L99.1,167.0 L100.6,166.0 L102.2,164.9 L103.7,163.7 L105.3,162.3 L106.8,160.9 L108.4,159.4 L110.0,157.7 L111.5,155.9 L113.1,153.9 L114.6,151.8 L116.2,149.5 L117.7,147.1 L119.3,144.5 L120.9,141.7 L122.4,138.4 L124.0,134.9 L125.5,131.2 L127.1,127.2 L128.7,122.8 L130.2,118.0 L131.8,113.3 L133.3,108.3 L134.9,103.4 L136.4,98.7 L138.0,94.5 L139.6,90.5 L141.1,86.7 L142.7,83.2 L144.2,80.1 L145.8,77.4 L147.3,74.9 L148.9,72.7 L150.5,70.6 L152.0,68.6 L153.6,66.8 L155.1,65.1 L156.7,63.5 L158.2,62.0 L159.8,60.6 L161.4,59.3 L162.9,58.0 L164.5,56.8 L166.0,55.7 L167.6,54.7 L169.1,53.9 L170.7,53.2 L172.3,52.5 L173.8,51.9 L175.4,51.4 L176.9,50.8 L178.5,50.2 L180.1,49.7 L181.6,49.1 L183.2,48.6 L184.7,48.1 L186.3,47.6 L187.8,47.2 L189.4,46.8 L191.0,46.4 L192.5,46.1 L194.1,45.8 L195.6,45.5 L197.2,45.2 L198.7,44.9 L200.3,44.7 L201.9,44.4 L203.4,44.2 L205.0,43.9 L206.5,43.7 L208.1,43.5 L209.6,43.3 L211.2,43.1 L212.8,42.9 L214.3,42.7 L215.9,42.6 L217.4,42.4 L219.0,42.3 L220.5,42.1 L222.1,42.0 L223.7,41.8 L225.2,41.7 L226.8,41.6 L228.3,41.4 L229.9,41.3 L231.5,41.1 L233.0,41.0 L234.6,40.8 L236.1,40.6 L237.7,40.5 L239.2,40.3 L240.8,40.1 L242.4,39.9 L243.9,39.8 L245.5,39.6 L247.0,39.4 L248.6,39.2 L250.1,39.0 L251.7,38.8" fill="none" stroke="#ffa500" stroke-width="1.1" stroke-dasharray="5.5,1.4,1.0,1.4"/>
<path d="M97.5,174.4 L99.1,174.2 L100.6,173.9 L102.2,173.7 L103.7,173.5 L105.3,173.3 L106.8,173.0 L108.4,172.8 L110.0,172.6 L111.5,172.5 L113.1,172.3 L114.6,172.1 L116.2,172.0 L117.7,171.8 L119.3,171.6 L120.9,171.4 L122.4,171.1 L124.0,170.8 L125.5,170.5 L127.1,170.1 L128.7,169.6 L130.2,169.0 L131.8,168.2 L133.3,167.0 L134.9,164.6 L136.4,161.5 L138.0,158.5 L139.6,156.0 L141.1,154.2 L142.7,152.6 L144.2,151.1 L145.8,149.7 L147.3,148.4 L148.9,147.2 L150.5,145.9 L152.0,144.6 L153.6,143.3 L155.1,142.0 L156.7,140.7 L158.2,139.4 L159.8,138.2 L161.4,137.1 L162.9,136.0 L164.5,135.1 L166.0,134.2 L167.6,133.3 L169.1,132.4 L170.7,131.5 L172.3,130.9 L173.8,130.4 L175.4,130.2 L176.9,130.3 L178.5,130.6 L180.1,131.2 L181.6,131.8 L183.2,132.5 L184.7,133.2 L186.3,133.8 L187.8,134.5 L189.4,135.3 L191.0,136.1 L192.5,136.9 L194.1,137.8 L195.6,138.6 L197.2,139.4 L198.7,140.2 L200.3,141.1 L201.9,141.9 L203.4,142.7 L205.0,143.4 L206.5,144.1 L208.1,144.6 L209.6,145.1 L211.2,145.6 L212.8,146.1 L214.3,146.5 L215.9,146.9 L217.4,147.3 L219.0,147.7 L220.5,148.1 L222.1,148.5 L223.7,148.9 L225.2,149.3 L226.8,149.6 L228.3,149.9 L229.9,150.2 L231.5,150.5 L233.0,150.8 L234.6,151.1 L236.1,151.3 L237.7,151.5 L239.2,151.6 L240.8,151.6 L242.4,151.7 L243.9,151.8 L245.5,151.9 L247.0,151.9 L248.6,152.0 L250.1,152.0 L251.7,152.0" fill="none" stroke="#ffa500" stroke-width="1.1" stroke-dasharray="5.5,1.4,1.0,1.4"/>
<path d="M176.5,112.5 L178.4,110.7 L180.4,109.0 L182.3,107.3 L184.2,105.5 L186.1,103.9 L188.1,102.2 L190.0,100.5 L191.9,98.9 L193.9,97.3 L195.8,95.6 L197.7,94.0 L199.6,92.5 L201.6,90.9 L203.5,89.3 L205.4,87.7 L207.4,86.2 L209.3,84.6 L211.2,83.1 L213.1,81.5 L215.1,80.0 L217.0,78.4 L218.9,76.9 L220.8,75.4 L222.8,73.8 L224.7,72.3 L226.6,70.7 L228.6,69.2 L230.5,67.6 L232.4,66.0 L234.3,64.4 L236.3,62.8 L238.2,61.2 L240.1,59.6 L242.1,58.0 L244.0,56.3 L245.9,54.7 L247.8,53.0 L249.8,51.3 L251.7,49.5" fill="none" stroke="#0000ff" stroke-opacity="0.3" stroke-width="3.2"/>
<path d="M97.5,169.0 L99.5,168.2 L101.6,167.3 L103.6,166.3 L105.6,165.3 L107.6,164.3 L109.7,163.2 L111.7,162.1 L113.7,160.9 L115.7,159.7 L117.8,158.4 L119.8,157.1 L121.8,155.8 L123.8,154.4 L125.9,153.0 L127.9,151.6 L129.9,150.2 L131.9,148.7 L134.0,147.2 L136.0,145.7 L138.0,144.1 L140.0,142.5 L142.1,140.9 L144.1,139.3 L146.1,137.7 L148.1,136.1 L150.2,134.4 L152.2,132.8 L154.2,131.1 L156.2,129.5 L158.3,127.8 L160.3,126.1 L162.3,124.4 L164.3,122.7 L166.4,121.1 L168.4,119.4 L170.4,117.7 L172.4,116.1 L174.5,114.4 L176.5,112.8 L176.9,112.6 L177.6,122.2 L179.5,121.5 L181.4,120.9 L183.3,120.2 L185.2,119.6 L187.1,118.9 L189.0,118.3 L190.9,117.7 L192.8,117.1 L194.7,116.4 L196.6,115.8 L198.5,115.2 L200.4,114.6 L202.3,114.1 L204.2,113.5 L206.1,112.9 L208.0,112.3 L209.9,111.8 L211.8,111.2 L213.7,110.7 L215.6,110.2 L217.5,109.7 L219.4,109.1 L221.3,108.6 L223.2,108.2 L225.1,107.7 L227.0,107.2 L228.9,106.7 L230.8,106.3 L232.7,105.8 L234.6,105.4 L236.5,105.0 L238.4,104.6 L240.3,104.2 L242.2,103.8 L244.1,103.4 L246.0,103.0 L247.9,102.7 L249.8,102.3 L251.7,102.0" fill="none" stroke="#ff0000" stroke-width="1.35" stroke-linejoin="miter"/>
<path d="M97.5,169.0 L99.5,168.2 L101.6,167.3 L103.6,166.3 L105.6,165.3 L107.6,164.3 L109.7,163.2 L111.7,162.1 L113.7,160.9 L115.7,159.7 L117.8,158.4 L119.8,157.1 L121.8,155.8 L123.8,154.4 L125.9,153.0 L127.9,151.6 L129.9,150.2 L131.9,148.7 L134.0,147.2 L136.0,145.7 L138.0,144.1 L140.0,142.5 L142.1,140.9 L144.1,139.3 L146.1,137.7 L148.1,136.1 L150.2,134.4 L152.2,132.8 L154.2,131.1 L156.2,129.5 L158.3,127.8 L160.3,126.1 L162.3,124.4 L164.3,122.7 L166.4,121.1 L168.4,119.4 L170.4,117.7 L172.4,116.1 L174.5,114.4 L176.5,112.8 L178.4,110.7 L180.4,109.0 L182.3,107.3 L184.2,105.5 L186.1,103.9 L188.1,102.2 L190.0,100.5 L191.9,98.9 L193.9,97.3 L195.8,95.6 L197.7,94.0 L199.6,92.5 L201.6,90.9 L203.5,89.3 L205.4,87.7 L207.4,86.2 L209.3,84.6 L211.2,83.1 L213.1,81.5 L215.1,80.0 L217.0,78.4 L218.9,76.9 L220.8,75.4 L222.8,73.8 L224.7,72.3 L226.6,70.7 L228.6,69.2 L230.5,67.6 L232.4,66.0 L234.3,64.4 L236.3,62.8 L238.2,61.2 L240.1,59.6 L242.1,58.0 L244.0,56.3 L245.9,54.7 L247.8,53.0 L249.8,51.3 L251.7,49.5" fill="none" stroke="#0000ff" stroke-width="1.35" stroke-dasharray="4.0,1.5"/>
</g>
<path d="M107.1,177.8 v-3.9 M107.1,23.6 v3.9" stroke="#1c1c1c" stroke-width="1.0"/>
<path d="M131.2,177.8 v-2.4 M131.2,23.6 v2.4" stroke="#1c1c1c" stroke-width="0.85"/>
<path d="M155.3,177.8 v-3.9 M155.3,23.6 v3.9" stroke="#1c1c1c" stroke-width="1.0"/>
<path d="M179.4,177.8 v-2.4 M179.4,23.6 v2.4" stroke="#1c1c1c" stroke-width="0.85"/>
<path d="M203.5,177.8 v-3.9 M203.5,23.6 v3.9" stroke="#1c1c1c" stroke-width="1.0"/>
<path d="M227.6,177.8 v-2.4 M227.6,23.6 v2.4" stroke="#1c1c1c" stroke-width="0.85"/>
<path d="M251.7,177.8 v-3.9 M251.7,23.6 v3.9" stroke="#1c1c1c" stroke-width="1.0"/>
<path d="M97.5,177.8 h3.9 M251.7,177.8 h-3.9" stroke="#1c1c1c" stroke-width="1.0"/>
<path d="M97.5,162.4 h2.4 M251.7,162.4 h-2.4" stroke="#1c1c1c" stroke-width="0.85"/>
<path d="M97.5,147.0 h3.9 M251.7,147.0 h-3.9" stroke="#1c1c1c" stroke-width="1.0"/>
<path d="M97.5,131.5 h2.4 M251.7,131.5 h-2.4" stroke="#1c1c1c" stroke-width="0.85"/>
<path d="M97.5,116.1 h3.9 M251.7,116.1 h-3.9" stroke="#1c1c1c" stroke-width="1.0"/>
<path d="M97.5,100.7 h2.4 M251.7,100.7 h-2.4" stroke="#1c1c1c" stroke-width="0.85"/>
<path d="M97.5,85.3 h3.9 M251.7,85.3 h-3.9" stroke="#1c1c1c" stroke-width="1.0"/>
<path d="M97.5,69.9 h2.4 M251.7,69.9 h-2.4" stroke="#1c1c1c" stroke-width="0.85"/>
<path d="M97.5,54.4 h3.9 M251.7,54.4 h-3.9" stroke="#1c1c1c" stroke-width="1.0"/>
<path d="M97.5,39.0 h2.4 M251.7,39.0 h-2.4" stroke="#1c1c1c" stroke-width="0.85"/>
<path d="M97.5,23.6 h3.9 M251.7,23.6 h-3.9" stroke="#1c1c1c" stroke-width="1.0"/>
<rect x="97.5" y="23.6" width="154.2" height="154.20000000000002" fill="none" stroke="#1c1c1c" stroke-width="1"/>
<text x="107.1" y="191.6" text-anchor="middle" font-size="10.15">0.2</text>
<text x="155.3" y="191.6" text-anchor="middle" font-size="10.15">0.4</text>
<text x="203.5" y="191.6" text-anchor="middle" font-size="10.15">0.6</text>
<text x="251.7" y="191.6" text-anchor="middle" font-size="10.15">0.8</text>
<text x="90.9" y="181.2" text-anchor="end" font-size="10.15">0.0</text>
<text x="90.9" y="150.4" text-anchor="end" font-size="10.15">0.2</text>
<text x="90.9" y="119.5" text-anchor="end" font-size="10.15">0.4</text>
<text x="90.9" y="88.7" text-anchor="end" font-size="10.15">0.6</text>
<text x="90.9" y="57.8" text-anchor="end" font-size="10.15">0.8</text>
<text x="90.9" y="27.0" text-anchor="end" font-size="10.15">1.0</text>
<text transform="translate(154.0,205.7) scale(1.25,1)" font-size="11.4" font-style="italic" class="rho">ρ</text>
<text transform="translate(164.3,205.7) scale(1.05,1)" font-size="11.4" >[fm</text>
<rect x="180.6" y="199.0" width="5.5" height="0.9" fill="#1a1a1a"/>
<text transform="translate(186.4,201.3) scale(1.08,1)" font-size="8.6" >3</text>
<text transform="translate(191.6,205.7) scale(1.05,1)" font-size="11.4" >]</text>
<text transform="translate(72.1,106.9) rotate(-90)" font-size="11.6" font-style="italic">c</text>
<text transform="translate(67.9,100.3) rotate(-90)" font-size="8.3">2</text>
<text transform="translate(74.6,102.0) rotate(-90)" font-size="8.3" font-style="italic">s</text>
</g>
</svg>
</body></html>
